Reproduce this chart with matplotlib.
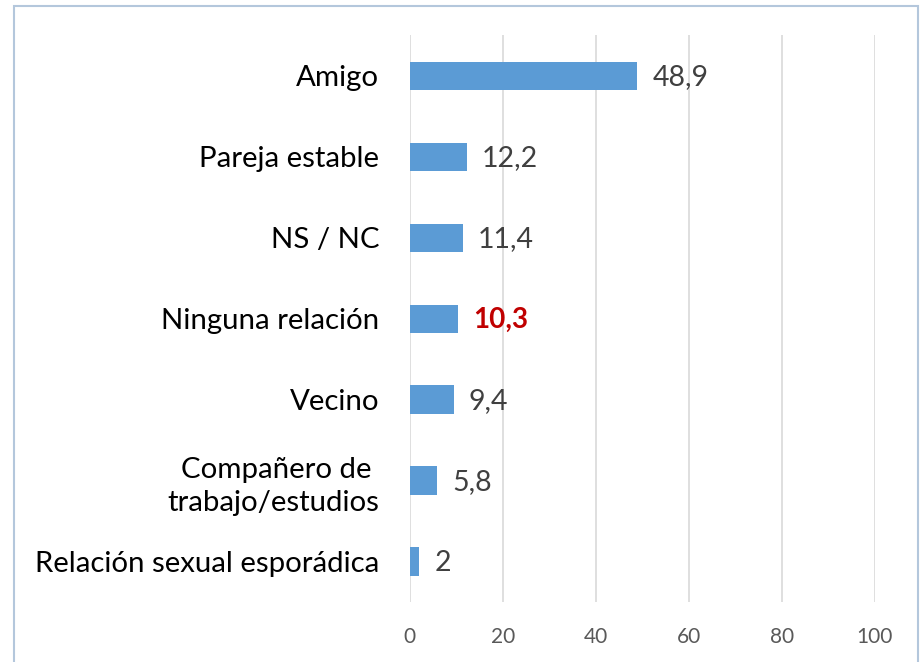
import matplotlib.pyplot as plt
from matplotlib.patches import Rectangle

# datos
categorias = ['Amigo', 'Pareja estable', 'NS / NC', 'Ninguna relación', 'Vecino',
              'Compañero de \ntrabajo/estudios', 'Relación sexual esporádica']
valores = [48.9, 12.2, 11.4, 10.3, 9.4, 5.8, 2]
etiquetas = ['48,9', '12,2', '11,4', '10,3', '9,4', '5,8', '2']
ticks_x = [0, 20, 40, 60, 80, 100]

plt.rcParams['font.family'] = ['Lato', 'DejaVu Sans']

fig = plt.figure(figsize=(9.21, 6.62), dpi=100)
ax = fig.add_axes([0.445, 0.0906, 0.505, 0.856])

y = list(range(len(categorias)))
ax.barh(y, valores, height=0.35, color='#5B9BD5', zorder=3)

for i, (v, t) in enumerate(zip(valores, etiquetas)):
    if t == '10,3':
        ax.annotate(t, (v, i), xytext=(11, -1), textcoords='offset points',
                    va='center', ha='left', fontsize=20, color='#C00000', fontweight='bold')
    else:
        ax.annotate(t, (v, i), xytext=(11, -1), textcoords='offset points',
                    va='center', ha='left', fontsize=20.5, color='#404040')

ax.set_xlim(0, 100)
ax.set_ylim(len(categorias) - 0.5, -0.5)
ax.set_xticks(ticks_x)
ax.set_yticks(y)
ax.set_yticklabels(categorias, fontsize=21.2, color='#000000', linespacing=1.35)
ax.tick_params(axis='x', length=0, pad=18, labelsize=15, labelcolor='#595959')
ax.tick_params(axis='y', length=0, pad=22)
ax.grid(axis='x', color='#D9D9D9', linewidth=1.2, zorder=0)
for s in ax.spines.values():
    s.set_visible(False)

# marco del gráfico
fig.patches.append(Rectangle((14 / 921, -0.01), 904 / 921, 1 - 6 / 662 + 0.01,
                             transform=fig.transFigure, fill=False,
                             edgecolor='#B4C7DC', linewidth=1.5))

fig.savefig('out.png', dpi=100)
